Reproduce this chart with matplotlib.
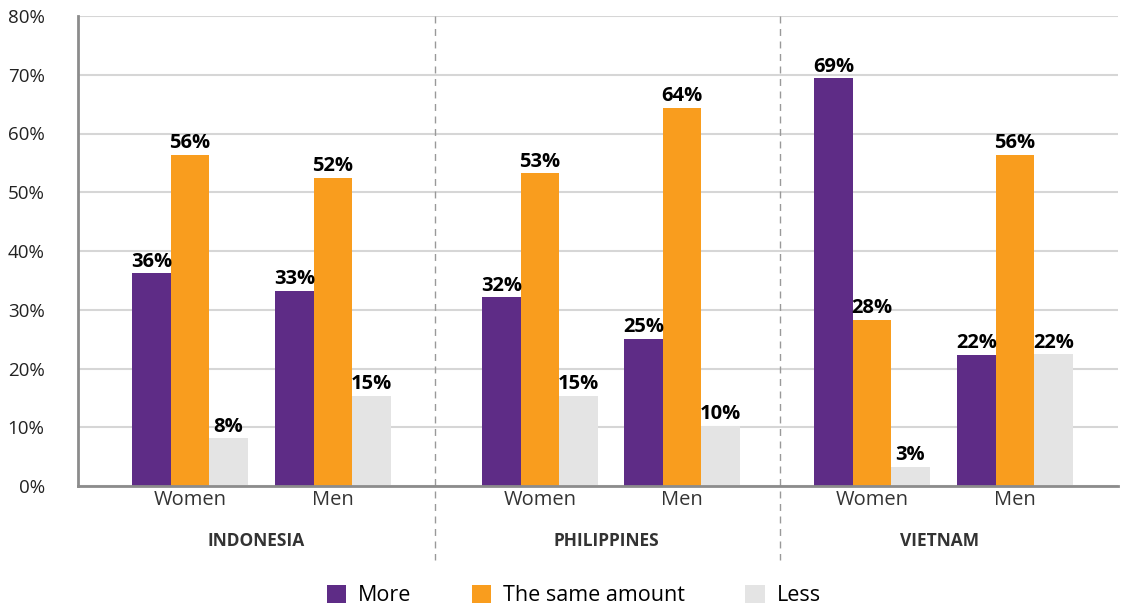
import matplotlib
matplotlib.use('Agg')
import matplotlib.pyplot as plt
import matplotlib.transforms as mtransforms
from matplotlib.patches import Patch
import numpy as np

plt.rcParams['font.family'] = ['Open Sans', 'DejaVu Sans']

countries = ['INDONESIA', 'PHILIPPINES', 'VIETNAM']
genders = ['Women', 'Men', 'Women', 'Men', 'Women', 'Men']
series = ['More', 'The same amount', 'Less']
more = [36.2, 33.2, 32.1, 25.0, 69.4, 22.3]
same = [56.4, 52.4, 53.2, 64.3, 28.3, 56.3]
less = [8.1, 15.3, 15.3, 10.2, 3.3, 22.4]
colors = ['#5E2C86', '#F99D1E', '#E4E4E4']

# layout (pixel-like x units)
centers = np.array([190, 333, 540, 682, 872, 1015])
country_x = [256, 606, 940]
dividers = [435, 780]
bw = 38.5

fig = plt.figure(figsize=(11.25, 6.04), dpi=100)
ax = fig.add_axes([78/1125, 1-486/604, 1040/1125, 470/604])

for i, (vals, c) in enumerate(zip([more, same, less], colors)):
    xs = centers + (i - 1) * bw
    ax.bar(xs, vals, width=bw, color=c, label=series[i], zorder=2)
    for x, v in zip(xs, vals):
        ax.text(x, v + 0.3, f'{round(v)}%', ha='center', va='bottom',
                fontsize=14.5, fontweight='bold', color='black', zorder=3)

ax.set_xlim(78, 1118)
ax.set_ylim(0, 80)
ax.set_yticks(range(0, 81, 10))
ax.set_yticklabels([f'{t}%' for t in range(0, 81, 10)], fontsize=13.5, color='#222222')
ax.set_xticks(centers)
ax.set_xticklabels(genders, fontsize=14.5, color='#333333')
ax.tick_params(axis='both', length=0)
ax.tick_params(axis='y', pad=24)
ax.tick_params(axis='x', pad=3)
ax.grid(axis='y', color='#D6D6D6', linewidth=1.5, zorder=0)
for s in ['top', 'right']:
    ax.spines[s].set_visible(False)
for s in ['left', 'bottom']:
    ax.spines[s].set_color('#8C8C8C')
    ax.spines[s].set_linewidth(2)
    ax.spines[s].set_zorder(4)

trans = mtransforms.blended_transform_factory(ax.transData, ax.transAxes)
for d in dividers:
    ax.plot([d, d], [1.0, -0.157], transform=trans, clip_on=False,
            color='#999999', linestyle=(0, (5, 4)), linewidth=1)
for x, name in zip(country_x, countries):
    ax.text(x, -0.117, name, transform=trans, ha='center', va='center',
            fontsize=12.5, fontweight='bold', color='#333333')

handles = [Patch(facecolor=c, edgecolor='none') for c in colors]
fig.legend(handles, series, loc='center', bbox_to_anchor=(0.51, 0.014),
           ncol=3, frameon=False, fontsize=15.5, handlelength=0.9,
           handleheight=0.9, columnspacing=2.8, handletextpad=0.55)

fig.savefig('out.png', dpi=100)
